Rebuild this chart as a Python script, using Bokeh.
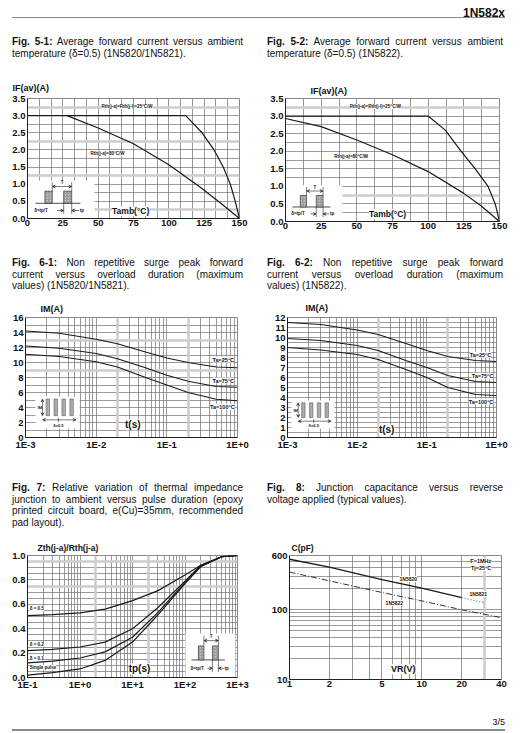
import math
from bokeh.plotting import figure
from bokeh.models import (Range1d, FixedTicker, CustomJSTickFormatter, Grid, Label,
                          Div, Arrow, VeeHead)
from bokeh.layouts import column, row
from bokeh.embed import file_html
from bokeh.resources import INLINE

FONT = "Liberation Sans"
CAP_FONT = "'Liberation Sans', Arial, sans-serif"

# ---------------- data ----------------
# Fig 5-1 / 5-2 : IF(av) vs Tamb
f5_x_ticks = [0, 25, 50, 75, 100, 125, 150]
f5_x_labels = ["0", "25", "50", "75", "100", "125", "150"]
f5_y_ticks = [0.0, 0.5, 1.0, 1.5, 2.0, 2.5, 3.0, 3.5]
f5_y_labels = ["0.0", "0.5", "1.0", "1.5", "2.0", "2.5", "3.0", "3.5"]

f51_r25_t = [0, 112, 123.5, 132, 138.5, 143.5, 147, 150]
f51_r25_i = [3.0, 3.0, 2.5, 2.0, 1.5, 1.0, 0.5, 0.0]
f51_r80_t = [28, 50, 75, 100, 122, 137, 150]
f51_r80_i = [3.0, 2.64, 2.18, 1.57, 0.92, 0.44, 0.0]

f52_r25_t = [0, 100, 112, 123, 133, 142, 147, 150]
f52_r25_i = [3.0, 3.0, 2.6, 2.0, 1.5, 1.0, 0.5, 0.0]
f52_r80_t = [0, 25, 50, 75, 100, 125, 137, 150]
f52_r80_i = [2.93, 2.7, 2.32, 1.9, 1.42, 0.8, 0.45, 0.0]

# Fig 6-1 / 6-2 : IM vs t
f6_x_ticks = [1e-3, 1e-2, 1e-1, 1.0]
f6_x_labels = ["1E-3", "1E-2", "1E-1", "1E+0"]
f61_y_ticks = [0, 2, 4, 6, 8, 10, 12, 14, 16]
f61_y_labels = ["0", "2", "4", "6", "8", "10", "12", "14", "16"]
f62_y_ticks = list(range(0, 13))
f62_y_labels = [str(v) for v in f62_y_ticks]

f6_t = [1e-3, 3e-3, 1e-2, 2e-2, 5e-2, 1e-1, 2e-1, 5e-1, 1.0]
f61_ta25 = [14.2, 13.9, 13.1, 12.5, 11.4, 10.6, 10.0, 9.4, 9.3]
f61_ta75 = [12.2, 11.9, 11.2, 10.5, 9.3, 8.3, 7.5, 6.8, 6.7]
f61_ta100 = [11.1, 10.8, 10.1, 9.4, 8.0, 7.0, 6.0, 5.1, 4.9]
f62_ta25 = [11.5, 11.3, 10.75, 10.3, 9.4, 8.7, 8.1, 7.7, 7.6]
f62_ta75 = [9.9, 9.7, 9.2, 8.7, 7.7, 7.0, 6.2, 5.6, 5.5]
f62_ta100 = [9.0, 8.75, 8.3, 7.8, 6.8, 6.0, 5.0, 4.3, 4.2]

# Fig 7 : Zth/Rth vs tp
f7_x_ticks = [0.1, 1.0, 10.0, 100.0, 1000.0]
f7_x_labels = ["1E-1", "1E+0", "1E+1", "1E+2", "1E+3"]
f7_y_ticks = [0.0, 0.2, 0.4, 0.6, 0.8, 1.0]
f7_y_labels = ["0.0", "0.2", "0.4", "0.6", "0.8", "1.0"]
f7_tp = [0.1, 0.3, 1, 3, 10, 30, 100, 200, 500, 1000]
f7_d05 = [0.507, 0.515, 0.53, 0.56, 0.63, 0.71, 0.84, 0.92, 0.99, 1.0]
f7_d02 = [0.22, 0.23, 0.25, 0.29, 0.40, 0.57, 0.79, 0.92, 0.99, 1.0]
f7_d01 = [0.12, 0.135, 0.16, 0.21, 0.33, 0.53, 0.78, 0.91, 0.99, 1.0]
f7_single = [0.02, 0.04, 0.07, 0.14, 0.29, 0.51, 0.77, 0.91, 0.99, 1.0]

# Fig 8 : C vs VR
f8_x_ticks = [1, 2, 5, 10, 20, 40]
f8_x_labels = ["1", "2", "5", "10", "20", "40"]
f8_y_ticks = [10, 100, 600]
f8_y_labels = ["10", "100", "600"]
f8_vr_5820 = [1, 2, 5, 10, 20]
f8_c_5820 = [530, 410, 270, 204, 149]
f8_vr_5821 = [20, 30]
f8_c_5821 = [149, 126]
f8_vr_5822 = [1, 2, 5, 10, 20, 40]
f8_c_5822 = [347, 260, 177, 134, 100, 77]

# captions
cap51 = ("Fig. 5-1:", ["Average forward current versus ambient",
                       "temperature (\u03b4=0.5) (1N5820/1N5821)."])
cap52 = ("Fig. 5-2:", ["Average forward current versus ambient",
                       "temperature (\u03b4=0.5) (1N5822)."])
cap61 = ("Fig. 6-1:", ["Non repetitive surge peak forward",
                       "current versus overload duration (maximum",
                       "values) (1N5820/1N5821)."])
cap62 = ("Fig. 6-2:", ["Non repetitive surge peak forward",
                       "current versus overload duration (maximum",
                       "values) (1N5822)."])
cap7 = ("Fig. 7:", ["Relative variation of thermal impedance",
                    "junction to ambient versus pulse duration (epoxy",
                    "printed circuit board, e(Cu)=35mm, recommended",
                    "pad layout)."])
cap8 = ("Fig. 8:", ["Junction capacitance versus reverse",
                    "voltage applied (typical values)."])


# ---------------- helpers ----------------
def lin_grid(lo, hi, step):
    n = int(round((hi - lo) / step))
    return [lo + i * step for i in range(n + 1)]


def log_grid(lo, hi):
    vals = []
    d = math.floor(math.log10(lo))
    while 10.0 ** d <= hi * 1.0001:
        for m in range(1, 10):
            v = m * 10.0 ** d
            if lo * 0.9999 <= v <= hi * 1.0001:
                vals.append(v)
        d += 1
    return vals


def make_fig(xr, yr, xlog, ylog, frame, box, ytitle, t_offset, t_standoff, t_size):
    fl, ft, fr, fb = frame
    gl, gt, gr, gb = box
    p = figure(x_range=Range1d(*xr), y_range=Range1d(*yr),
               x_axis_type="log" if xlog else "linear",
               y_axis_type="log" if ylog else "linear",
               frame_width=fr - fl, frame_height=fb - ft,
               min_border_left=fl - gl, min_border_right=gr - fr,
               min_border_top=ft - gt, min_border_bottom=gb - fb,
               toolbar_location=None, output_backend="svg",
               background_fill_color="white", border_fill_color="white",
               outline_line_color="#8a8a8a", outline_line_width=1)
    p.title.text = ytitle
    p.title.align = "left"
    p.title.offset = t_offset
    p.title.standoff = t_standoff
    p.title.vertical_align = "bottom"
    p.title.text_font = FONT
    p.title.text_font_size = t_size
    p.title.text_font_style = "bold"
    p.title.text_color = "#111111"

    def tx(f):
        if xlog:
            a, b = math.log10(xr[0]), math.log10(xr[1])
            return 10 ** (a + f * (b - a))
        return xr[0] + f * (xr[1] - xr[0])

    def ty(f):
        if ylog:
            a, b = math.log10(yr[0]), math.log10(yr[1])
            return 10 ** (a + f * (b - a))
        return yr[0] + f * (yr[1] - yr[0])

    for ax in (p.xaxis[0], p.yaxis[0]):
        ax.major_tick_line_color = None
        ax.minor_tick_line_color = None
        ax.major_tick_out = 0
        ax.major_tick_in = 0
        ax.axis_line_color = "#222222"
        ax.axis_line_width = 1
        ax.major_label_text_font = FONT
        ax.major_label_text_font_size = "9.5px"
        ax.major_label_text_font_style = "bold"
        ax.major_label_text_color = "#111111"
    p.xaxis[0].major_label_standoff = 1
    p.yaxis[0].major_label_standoff = 2
    return p, tx, ty


def set_ticks(axis, vals, labels):
    axis.ticker = FixedTicker(ticks=list(vals), minor_ticks=[])
    axis.formatter = CustomJSTickFormatter(
        args=dict(vals=list(vals), labs=list(labels)),
        code="""
        for (let i = 0; i < vals.length; i++) {
            if (Math.abs(vals[i] - tick) <= 1e-9 * Math.max(1, Math.abs(tick))) return labs[i];
        }
        return "";
        """)


def set_grid(p, xs, ys, xlight=(), ylight=()):
    p.xgrid.ticker = FixedTicker(ticks=list(xs), minor_ticks=[])
    p.ygrid.ticker = FixedTicker(ticks=list(ys), minor_ticks=[])
    for g in (p.xgrid[0], p.ygrid[0]):
        g.grid_line_color = "#707070"
        g.grid_line_width = 0.7
    if xlight:
        p.add_layout(Grid(dimension=0, ticker=FixedTicker(ticks=list(xlight), minor_ticks=[]),
                          grid_line_color="#cdcdcd", grid_line_width=2.5))
    if ylight:
        p.add_layout(Grid(dimension=1, ticker=FixedTicker(ticks=list(ylight), minor_ticks=[]),
                          grid_line_color="#cdcdcd", grid_line_width=2.5))


def lab(p, x, y, text, size, bold=True, align="center", baseline="middle",
        bg=None, xo=0, yo=0):
    p.add_layout(Label(x=x, y=y, text=text, text_font=FONT, text_font_size=size,
                       text_font_style="bold" if bold else "normal",
                       text_align=align, text_baseline=baseline,
                       background_fill_color=bg, x_offset=xo, y_offset=yo,
                       text_color="#111111"))


def curve(p, x, y, width=1.2, dash="solid", color="#1a1a1a"):
    p.line(x, y, line_color=color, line_width=width, line_dash=dash)


def arrow(p, x0, y0, x1, y1, both=False):
    head = dict(size=3, line_width=0.5, line_color="#222222", fill_color="#222222")
    p.add_layout(Arrow(start=VeeHead(**head) if both else None, end=VeeHead(**head),
                       x_start=x0, y_start=y0, x_end=x1, y_end=y1,
                       line_width=0.6, line_color="#222222"))


def pulse_inset(p, tx, ty, box):
    bx0, by0, bx1, by1 = box

    def X(u):
        return tx(bx0 + u * (bx1 - bx0))

    def Y(v):
        return ty(by0 + v * (by1 - by0))

    p.quad(left=[X(0)], right=[X(1)], bottom=[Y(0)], top=[Y(1)],
           fill_color="white", line_color=None)
    p.line([X(0.12), X(0.79)], [Y(0.40), Y(0.40)], line_color="#222222", line_width=0.8)
    p.quad(left=[X(0.26), X(0.54)], right=[X(0.37), X(0.66)],
           bottom=[Y(0.40), Y(0.40)], top=[Y(0.72), Y(0.72)],
           fill_color="#c4c4c4", hatch_pattern="/", hatch_color="#555555",
           hatch_scale=3, hatch_weight=0.5, line_color="#222222", line_width=0.6)
    p.multi_line(xs=[[X(0.37), X(0.37)], [X(0.66), X(0.66)],
                     [X(0.54), X(0.54)], [X(0.66), X(0.66)]],
                 ys=[[Y(0.72), Y(0.95)], [Y(0.72), Y(0.95)],
                     [Y(0.40), Y(0.12)], [Y(0.40), Y(0.12)]],
                 line_color="#222222", line_width=0.6)
    arrow(p, X(0.37), Y(0.84), X(0.66), Y(0.84), both=True)
    arrow(p, X(0.44), Y(0.21), X(0.54), Y(0.21))
    arrow(p, X(0.77), Y(0.21), X(0.66), Y(0.21))
    lab(p, X(0.515), Y(0.87), "T", "4.5px", baseline="bottom")
    lab(p, X(0.10), Y(0.21), "\u03b4=tp/T", "4.5px", align="left")
    lab(p, X(0.78), Y(0.21), "tp", "4.5px", align="left")


def bars_inset(p, tx, ty, box):
    bx0, by0, bx1, by1 = box

    def X(u):
        return tx(bx0 + u * (bx1 - bx0))

    def Y(v):
        return ty(by0 + v * (by1 - by0))

    p.quad(left=[X(0)], right=[X(1)], bottom=[Y(0)], top=[Y(1)],
           fill_color="white", line_color=None)
    lefts = [0.24, 0.42, 0.60, 0.78]
    p.quad(left=[X(u) for u in lefts], right=[X(u + 0.08) for u in lefts],
           bottom=[Y(0.40)] * 4, top=[Y(0.92)] * 4,
           fill_color="#b0b0b0", hatch_pattern="|", hatch_color="#808080",
           hatch_scale=2, hatch_weight=0.5, line_color="#555555", line_width=0.5)
    arrow(p, X(0.16), Y(0.40), X(0.16), Y(0.92), both=True)
    arrow(p, X(0.16), Y(0.27), X(0.92), Y(0.27), both=True)
    p.line([X(0.52), X(0.52)], [Y(0.20), Y(0.34)], line_color="#222222", line_width=0.6)
    lab(p, X(0.05), Y(0.66), "IM", "4px", align="left")
    lab(p, X(0.52), Y(0.10), "\u03b4=0.5", "4px")


def caption(spec, width, height, pad_top, pad_left, text_width):
    bold, lines = spec
    parts = []
    for i, ln in enumerate(lines):
        if i == 0:
            ln = "<b>%s</b> %s" % (bold, ln)
        last = i == len(lines) - 1
        parts.append('<div style="text-align:%s;text-align-last:%s;">%s</div>'
                     % ("left" if last else "justify", "left" if last else "justify", ln))
    html = ('<div style="width:%dpx;padding:%dpx 0 0 %dpx;font-family:%s;font-size:10px;'
            'line-height:11.5px;color:#111;">%s</div>'
            % (text_width, pad_top, pad_left, CAP_FONT, "".join(parts)))
    return Div(text=html, width=width, height=height, margin=0)


# ---------------- Fig 5-1 ----------------
p51, tx, ty = make_fig((0, 150), (0, 3.5), False, False,
                       (27, 98, 239, 218), (8, 62, 265, 234),
                       "IF(av)(A)", -15, 12, "9px")
set_ticks(p51.xaxis[0], f5_x_ticks, f5_x_labels)
set_ticks(p51.yaxis[0], f5_y_ticks, f5_y_labels)
set_grid(p51, lin_grid(0, 150, 25 / 3), lin_grid(0, 3.5, 0.25),
         ylight=[0.25, 1.25, 2.25, 3.25])
pulse_inset(p51, tx, ty, (0.0, 0.0, 0.316, 0.317))
curve(p51, f51_r25_t, f51_r25_i)
curve(p51, f51_r80_t, f51_r80_i)
lab(p51, 70.4, 3.27, "Rth(j-a)=Rth(j-l)=25\u00b0C/W", "4.5px", bg="white")
lab(p51, 56.6, 1.9, "Rth(j-a)=80\u00b0C/W", "4.5px", bg="white")
lab(p51, 73, 0.21, "Tamb(\u00b0C)", "8.5px", bg="white")

# ---------------- Fig 5-2 ----------------
p52, tx, ty = make_fig((0, 150), (0, 3.5), False, False,
                       (285, 95, 499, 218), (265, 62, 521, 234),
                       "IF(av)(A)", 25, 6, "9px")
set_ticks(p52.xaxis[0], f5_x_ticks, f5_x_labels)
set_ticks(p52.yaxis[0], f5_y_ticks, f5_y_labels)
set_grid(p52, lin_grid(0, 150, 12.5), lin_grid(0, 3.5, 0.25),
         ylight=[0.75, 3.25])
pulse_inset(p52, tx, ty, (0.0, 0.0, 0.266, 0.295))
curve(p52, f52_r25_t, f52_r25_i)
curve(p52, f52_r80_t, f52_r80_i)
lab(p52, 63, 3.27, "Rth(j-a)=Rth(j-l)=25\u00b0C/W", "4.5px", bg="white")
lab(p52, 46, 1.85, "Rth(j-a)=80\u00b0C/W", "4.5px", bg="white")
lab(p52, 71.5, 0.21, "Tamb(\u00b0C)", "8.5px", bg="white")

# ---------------- Fig 6-1 ----------------
p61, tx, ty = make_fig((1e-3, 1.0), (0, 16), True, False,
                       (25, 316, 237, 436), (8, 292, 265, 452),
                       "IM(A)", 15, 8, "9px")
set_ticks(p61.xaxis[0], f6_x_ticks, f6_x_labels)
set_ticks(p61.yaxis[0], f61_y_ticks, f61_y_labels)
set_grid(p61, log_grid(1e-3, 1.0), lin_grid(0, 16, 1),
         xlight=[0.02, 0.2], ylight=[9, 13])
bars_inset(p61, tx, ty, (0.047, 0.075, 0.255, 0.342))
curve(p61, f6_t, f61_ta25)
curve(p61, f6_t, f61_ta75)
curve(p61, f6_t, f61_ta100)
lab(p61, 0.63, 10.4, "Ta=25\u00b0C", "5.5px", bg="white")
lab(p61, 0.63, 7.6, "Ta=75\u00b0C", "5.5px", bg="white")
lab(p61, 0.61, 4.1, "Ta=100\u00b0C", "5.5px", bg="white")
lab(p61, 0.033, 1.7, "t(s)", "10px", bg="white")

# ---------------- Fig 6-2 ----------------
p62, tx, ty = make_fig((1e-3, 1.0), (0, 12), True, False,
                       (287, 317, 496, 437), (265, 292, 521, 452),
                       "IM(A)", 18, 9, "9px")
set_ticks(p62.xaxis[0], f6_x_ticks, f6_x_labels)
set_ticks(p62.yaxis[0], f62_y_ticks, f62_y_labels)
set_grid(p62, log_grid(1e-3, 1.0), lin_grid(0, 12, 0.5),
         xlight=[0.02, 0.2])
bars_inset(p62, tx, ty, (0.018, 0.0725, 0.225, 0.308))
curve(p62, f6_t, f62_ta25)
curve(p62, f6_t, f62_ta75)
curve(p62, f6_t, f62_ta100)
lab(p62, 0.59, 8.27, "Ta=25\u00b0C", "5.5px", bg="white")
lab(p62, 0.63, 6.17, "Ta=75\u00b0C", "5.5px", bg="white")
lab(p62, 0.60, 3.6, "Ta=100\u00b0C", "5.5px", bg="white")
lab(p62, 0.0265, 0.77, "t(s)", "10px", bg="white")

# ---------------- Fig 7 ----------------
p7, tx, ty = make_fig((0.1, 1000.0), (0, 1.0), True, False,
                      (27, 555, 237, 677), (8, 530, 265, 694),
                      "Zth(j-a)/Rth(j-a)", 10, 5, "8.5px")
set_ticks(p7.xaxis[0], f7_x_ticks, f7_x_labels)
set_ticks(p7.yaxis[0], f7_y_ticks, f7_y_labels)
set_grid(p7, log_grid(0.1, 1000.0), lin_grid(0, 1.0, 0.05),
         xlight=[2, 20], ylight=[0.95, 0.75])
pulse_inset(p7, tx, ty, (0.752, 0.0, 0.99, 0.36))
curve(p7, f7_tp, f7_d05)
curve(p7, f7_tp, f7_d02)
curve(p7, f7_tp, f7_d01)
curve(p7, f7_tp, f7_single)
lab(p7, 0.11, 0.565, "\u03b4 = 0.5", "4.5px", align="left", bg="white")
lab(p7, 0.11, 0.27, "\u03b4 = 0.2", "4.5px", align="left", bg="white")
lab(p7, 0.11, 0.156, "\u03b4 = 0.1", "4.5px", align="left", bg="white")
lab(p7, 0.11, 0.082, "Single pulse", "4.5px", align="left", bg="white")
lab(p7, 13.6, 0.07, "tp(s)", "10px", bg="white")

# ---------------- Fig 8 ----------------
p8, tx, ty = make_fig((1, 40), (10, 600), True, True,
                      (289, 554, 501, 678), (265, 530, 521, 694),
                      "C(pF)", 2, 4.5, "8.5px")
set_ticks(p8.xaxis[0], f8_x_ticks, f8_x_labels)
set_ticks(p8.yaxis[0], f8_y_ticks, f8_y_labels)
set_grid(p8, log_grid(1, 40), log_grid(10, 600), xlight=[30])
curve(p8, f8_vr_5820, f8_c_5820, width=1.3)
curve(p8, f8_vr_5821, f8_c_5821, width=0.9, dash="1 2", color="#444444")
curve(p8, f8_vr_5822, f8_c_5822, width=1.0, dash="6 2 1 2", color="#333333")
lab(p8, 33.5, 495, "F=1MHz", "5.5px", align="right", bg="white")
lab(p8, 33.5, 397, "Tj=25\u00b0C", "5.5px", align="right", bg="white")
lab(p8, 7.9, 276, "1N5820", "5px", bg="white")
lab(p8, 26.7, 168, "1N5821", "5px", bg="white")
lab(p8, 6.2, 125, "1N5822", "5px", bg="white")
lab(p8, 7.25, 14.0, "VR(V)", "9px", bg="white")

# ---------------- page text ----------------
header = Div(text=(
    '<div style="position:relative;width:513px;height:20px;font-family:%s;">'
    '<div style="position:absolute;left:4px;top:9px;width:493px;height:0;'
    'border-top:1.5px solid #8a8a8a;"></div>'
    '<div style="position:absolute;right:16px;top:0px;font-size:12px;font-weight:bold;'
    'line-height:10px;color:#111;">1N582x</div></div>' % CAP_FONT),
    width=513, height=20, margin=0)

footer = Div(text=(
    '<div style="position:relative;width:513px;height:38px;font-family:%s;">'
    '<div style="position:absolute;right:16px;top:23px;font-size:9px;line-height:10px;'
    'color:#111;">3/5</div>'
    '<div style="position:absolute;left:4px;top:35px;width:493px;height:0;'
    'border-top:2px solid #8a8a8a;"></div></div>' % CAP_FONT),
    width=513, height=38, margin=0)

c51 = caption(cap51, 257, 34, 8, 4, 235)
c52 = caption(cap52, 256, 34, 8, 2, 238)
c61 = caption(cap61, 257, 58, 23, 4, 235)
c62 = caption(cap62, 256, 58, 23, 2, 238)
c7 = caption(cap7, 257, 78, 30, 4, 235)
c8 = caption(cap8, 256, 78, 30, 2, 238)

layout = column(header,
                row(c51, c52), row(p51, p52),
                row(c61, c62), row(p61, p62),
                row(c7, c8), row(p7, p8),
                footer, spacing=0, margin=(8, 0, 0, 8))

html = file_html(layout, INLINE, title="1N582x")
with open("out.html", "w", encoding="utf-8") as fh:
    fh.write(html)
